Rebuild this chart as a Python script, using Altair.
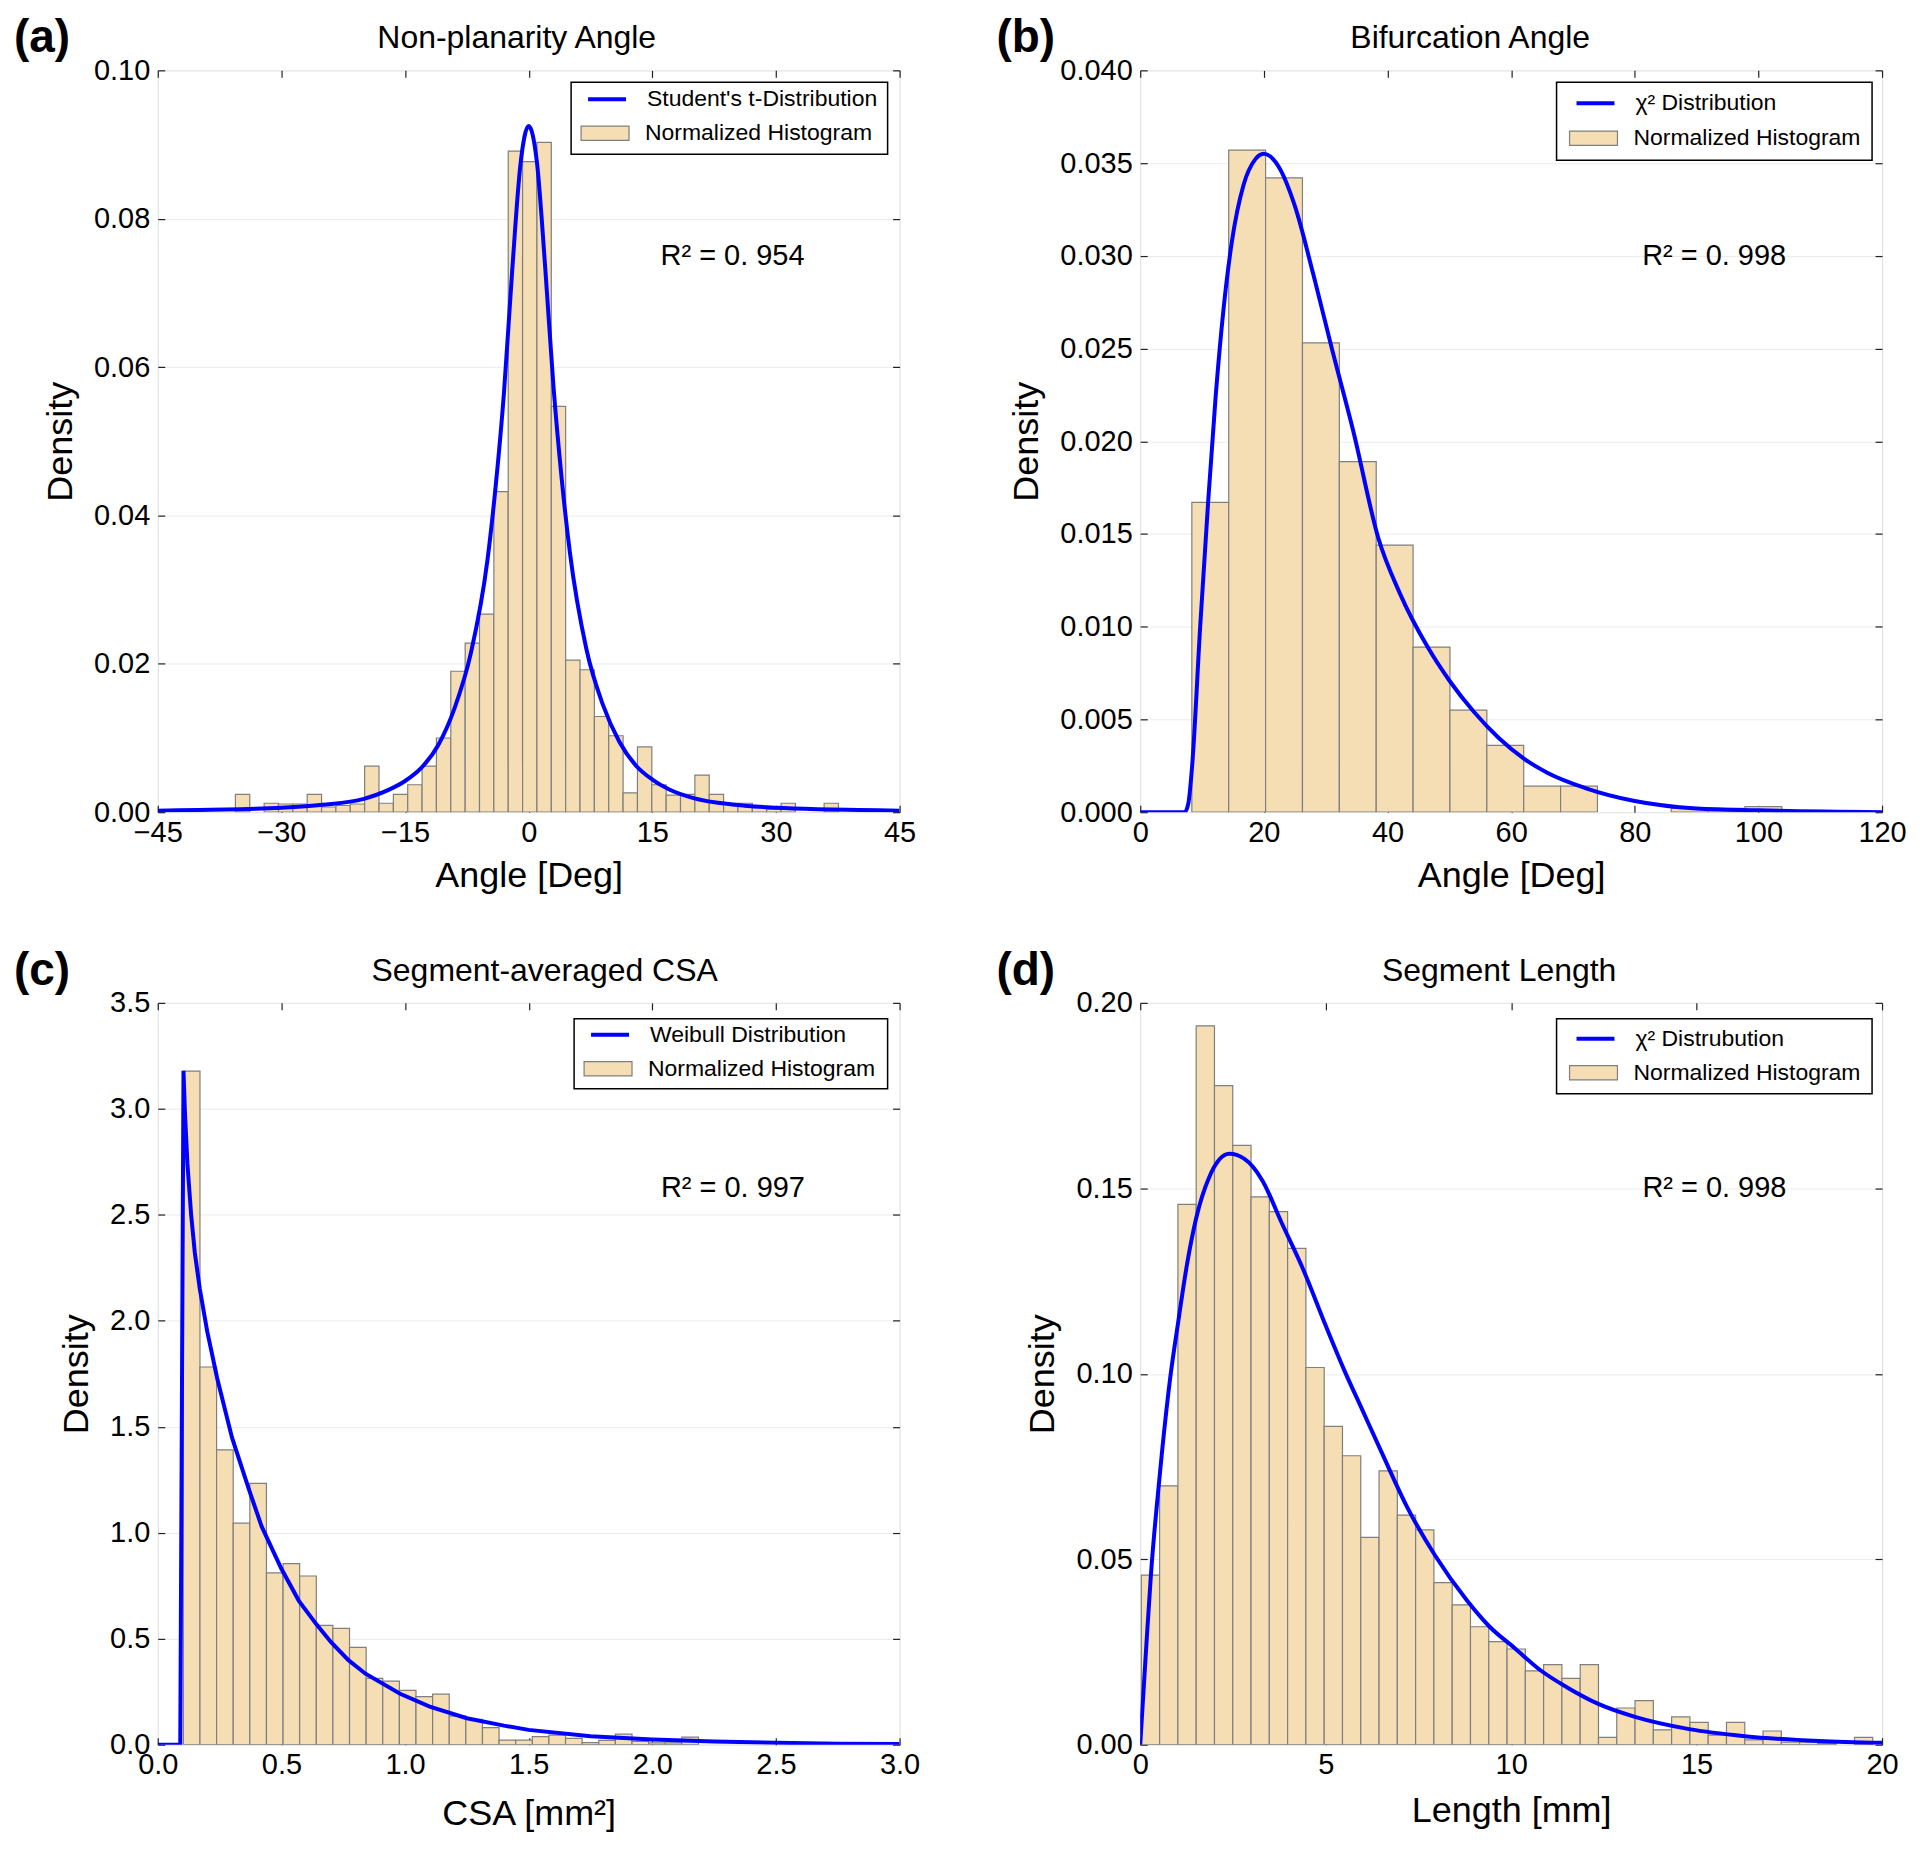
import altair as alt
import pandas as pd

FONT = "Liberation Sans"
W = 743
H = 743

# ---------------- (a) Non-planarity angle ----------------
a_bin_start = -35.58
a_bin_width = 1.742
a_density = [0.0024, 0.0, 0.0012, 0.0011, 0.0011, 0.0024, 0.0007, 0.0009, 0.0011, 0.0062,
             0.0012, 0.0024, 0.0037, 0.0062, 0.0100, 0.0190, 0.0228, 0.0267, 0.0432, 0.0891,
             0.0877, 0.0903, 0.0547, 0.0205, 0.0192, 0.0129, 0.0103, 0.0026, 0.0088, 0.0037,
             0.0023, 0.0024, 0.0050, 0.0024, 0.0012, 0.0012, 0.0006, 0.0004, 0.0012, 0.0, 0.0, 0.0012]
a_curve_x = [-45, -40, -35, -30, -25, -20, -17, -15, -13, -11, -9, -7, -5, -4, -3, -2, -1,
             0, 1, 2, 3, 4, 5, 7, 9, 11, 13, 15, 17, 20, 25, 30, 35, 40, 45]
a_curve_y = [0.0002, 0.0003, 0.0004, 0.0006, 0.0010, 0.0018, 0.0030, 0.0042, 0.0060, 0.0090,
             0.0140, 0.0215, 0.0340, 0.0440, 0.0565, 0.0730, 0.0873, 0.0925, 0.0876, 0.0735,
             0.0575, 0.0450, 0.0350, 0.0220, 0.0145, 0.0095, 0.0063, 0.0044, 0.0031, 0.0019,
             0.0010, 0.0006, 0.0004, 0.0003, 0.0002]

# ---------------- (b) Bifurcation angle ----------------
b_bin_start = 8.35
b_bin_width = 5.965
b_density = [0.0167, 0.0357, 0.0342, 0.0253, 0.0189, 0.0144, 0.0089, 0.0055, 0.0036, 0.0014,
             0.0014, 0.0, 0.0, 0.0002, 0.0002, 0.0003]
b_curve_x = [0, 6, 7.2, 7.8, 8.4, 9.7, 11, 12.2, 13.5, 14.8, 16.7, 18.6, 20, 22.4, 25, 28, 31,
             34.5, 38.5, 42, 46.5, 50, 54, 58, 62, 66, 72, 80, 90, 100, 120]
b_curve_y = [0, 0, 0.0, 0.0005, 0.0025, 0.0100, 0.0168, 0.0224, 0.0272, 0.0307, 0.0338, 0.0352,
             0.0355, 0.0348, 0.0327, 0.0290, 0.0250, 0.0205, 0.0148, 0.0118, 0.0089, 0.0071,
             0.0054, 0.0040, 0.0029, 0.0021, 0.0013, 0.0006, 0.0002, 0.0001, 0.0]

# ---------------- (c) Segment-averaged CSA ----------------
c_bin_start = 0.1035
c_bin_width = 0.0672
c_density = [3.178, 1.782, 1.391, 1.045, 1.233, 0.811, 0.854, 0.796, 0.563, 0.549,
             0.459, 0.313, 0.300, 0.256, 0.227, 0.239, 0.135, 0.120, 0.081, 0.022,
             0.022, 0.038, 0.045, 0.030, 0.010, 0.020, 0.050, 0.016, 0.009, 0.009, 0.036]
c_curve_x = [0, 0.091, 0.104, 0.11, 0.12, 0.135, 0.15, 0.17, 0.2, 0.24, 0.3, 0.37, 0.42, 0.5,
             0.57, 0.64, 0.7, 0.77, 0.84, 0.98, 1.1, 1.25, 1.4, 1.5, 1.75, 2.0, 2.25, 2.5, 2.75, 3.0]
c_curve_y = [0, 0, 3.18, 2.98, 2.74, 2.50, 2.32, 2.15, 1.95, 1.73, 1.45, 1.20, 1.03, 0.83,
             0.68, 0.57, 0.485, 0.40, 0.335, 0.24, 0.18, 0.125, 0.09, 0.07, 0.04, 0.025, 0.015,
             0.009, 0.005, 0.003]

# ---------------- (d) Segment length ----------------
d_bin_start = 0.03
d_bin_width = 0.493
d_density = [0.0457, 0.0698, 0.1457, 0.1938, 0.1777, 0.1616, 0.1477, 0.1437, 0.1338, 0.1017,
             0.0858, 0.0779, 0.0559, 0.0738, 0.0619, 0.0579, 0.0437, 0.0377, 0.0318, 0.0278,
             0.0258, 0.0199, 0.0216, 0.0179, 0.0216, 0.0020, 0.0099, 0.0119, 0.0040, 0.0075,
             0.0060, 0.0026, 0.0060, 0.0013, 0.0037, 0.0007, 0.0007, 0.0003, 0.0, 0.0020]
d_curve_x = [0, 0.16, 0.29, 0.52, 0.81, 1.01, 1.27, 1.51, 1.86, 2.4, 2.8, 3.3, 3.8, 4.4, 5.0,
             5.5, 6.0, 6.5, 7.2, 7.95, 8.8, 9.4, 10.1, 10.8, 11.5, 12.35, 13.34, 14.8, 16.3, 18.3, 20]
d_curve_y = [0, 0.026, 0.046, 0.072, 0.099, 0.113, 0.130, 0.142, 0.153, 0.1593, 0.158, 0.152,
             0.141, 0.128, 0.113, 0.101, 0.090, 0.079, 0.064, 0.051, 0.039, 0.032, 0.026, 0.020,
             0.0155, 0.011, 0.0075, 0.0042, 0.0023, 0.0010, 0.0005]

HIST_LABEL = "Normalized Histogram"
TICK_FS = 29
AXTITLE_FS = 36
LEG_FS = 23


def make_panel(letter, title, title_dx, xlabel, xdom, xticks, xfmt, ydom, yticks, yfmt,
               bin_start, bin_width, density, cx, cy, interp, curve_label, r2_text, r2_xy, leg,
               xtitle_pad=11):
    lo = [bin_start + i * bin_width for i in range(len(density))]
    hist = pd.DataFrame({"x0": lo, "x1": [v + bin_width for v in lo], "d": density,
                         "base": [0.0] * len(density), "name": [HIST_LABEL] * len(density)})
    hist = hist[hist["d"] > 0]
    curve = pd.DataFrame({"x": cx, "y": cy, "name": [curve_label] * len(cx)})
    one = pd.DataFrame({"k": [0]})

    xs = alt.Scale(domain=xdom, nice=False, zero=False)
    ys = alt.Scale(domain=ydom, nice=False, zero=False)
    tick_only = dict(labels=False, title=None, domain=False, grid=False, ticks=True,
                     tickSize=7, tickWidth=1.2, tickColor="#222222")
    fx0, fx1, fy0, fy1, c1, c2, dxl = leg

    bars = alt.Chart(hist).mark_rect(stroke="#7f7f7f", strokeWidth=1.2, clip=True).encode(
        x=alt.X("x0:Q", scale=xs, axis=alt.Axis(
            orient="bottom", title=xlabel, values=xticks, format=xfmt, ticks=False,
            domain=False, grid=False, labelFont=FONT, labelFontSize=TICK_FS, labelColor="black",
            labelPadding=6, labelFlush=False, labelOverlap=False, titleFont=FONT,
            titleFontSize=AXTITLE_FS, titleFontWeight="normal", titleColor="black",
            titlePadding=xtitle_pad)),
        x2="x1:Q",
        y=alt.Y("d:Q", scale=ys, axis=alt.Axis(
            orient="left", title="Density", values=yticks, format=yfmt, ticks=False,
            domain=False, grid=True, gridColor="#ebebeb", gridWidth=1, labelFont=FONT,
            labelFontSize=TICK_FS, labelColor="black", labelPadding=8, labelOverlap=False,
            titleFont=FONT, titleFontSize=AXTITLE_FS, titleFontWeight="normal",
            titleColor="black", titlePadding=14)),
        y2="base:Q",
        fill=alt.Fill("name:N", scale=alt.Scale(domain=[HIST_LABEL], range=["#f5deb3"]),
                      legend=alt.Legend(orient="none", legendX=fx0 + 9 + dxl, legendY=c2 - 25,
                                        title=None, symbolType="M-1,-0.3H1V0.3H-1Z",
                                        symbolSize=2304, symbolStrokeColor="#7f7f7f",
                                        symbolStrokeWidth=1.2, labelFont=FONT,
                                        labelFontSize=LEG_FS, labelColor="black", labelLimit=600,
                                        labelOffset=15, padding=0)),
    )

    line = alt.Chart(curve).mark_line(strokeWidth=4, interpolate=interp, clip=True).encode(
        x=alt.X("x:Q", scale=xs, axis=alt.Axis(orient="top", offset=-H, values=xticks, **tick_only)),
        y=alt.Y("y:Q", scale=ys, axis=alt.Axis(orient="right", offset=-W, values=yticks, **tick_only)),
        stroke=alt.Stroke("name:N", scale=alt.Scale(domain=[curve_label], range=["#0000ff"]),
                          legend=alt.Legend(orient="none", legendX=fx0 + 15 + dxl, legendY=c1 - 22,
                                            title=None, symbolType="stroke", symbolSize=1444,
                                            symbolStrokeWidth=4, labelFont=FONT,
                                            labelFontSize=LEG_FS, labelColor="black",
                                            labelLimit=600, labelOffset=19, padding=0)),
    )

    frame = alt.Chart(one).mark_rect(fill="white", stroke="black", strokeWidth=1.5).encode(
        x=alt.value(fx0), x2=alt.value(fx1), y=alt.value(fy0), y2=alt.value(fy1))

    r2 = alt.Chart(pd.DataFrame({"x": [r2_xy[0]], "y": [r2_xy[1]], "t": [r2_text]})).mark_text(
        align="left", baseline="middle", font=FONT, fontSize=29, color="black").encode(
        x=alt.X("x:Q", scale=xs, axis=alt.Axis(orient="bottom", offset=-H, values=xticks, **tick_only)),
        y=alt.Y("y:Q", scale=ys, axis=alt.Axis(orient="left", offset=-W, values=yticks, **tick_only)),
        text="t:N")

    tag = alt.Chart(one).mark_text(align="left", baseline="alphabetic", font=FONT, fontSize=46,
                                   fontWeight="bold", color="black").encode(
        x=alt.value(-144), y=alt.value(-18), text=alt.value(letter))

    ttl = alt.Chart(one).mark_text(align="center", baseline="alphabetic", font=FONT, fontSize=32,
                                   color="black").encode(
        x=alt.value(W / 2 + title_dx), y=alt.value(-22), text=alt.value(title))

    return alt.layer(bars, line, frame, r2, tag, ttl).resolve_axis(
        x="independent", y="independent").properties(width=W, height=H)


pa = make_panel("(a)", "Non-planarity Angle", -12, "Angle [Deg]", [-45, 45],
                [-45, -30, -15, 0, 15, 30, 45], "d", [0, 0.10],
                [0.0, 0.02, 0.04, 0.06, 0.08, 0.10], ".2f",
                a_bin_start, a_bin_width, a_density, a_curve_x, a_curve_y, "monotone",
                "Student's t-Distribution", "R² = 0. 954", (16.0, 0.075),
                (414, 731, 12, 84, 30, 63, 0))

pb = make_panel("(b)", "Bifurcation Angle", -41, "Angle [Deg]", [0, 120],
                [0, 20, 40, 60, 80, 100, 120], "d", [0, 0.040],
                [0.0, 0.005, 0.010, 0.015, 0.020, 0.025, 0.030, 0.035, 0.040], ".3f",
                b_bin_start, b_bin_width, b_density, b_curve_x, b_curve_y, "monotone",
                "χ² Distribution", "R² = 0. 998", (81.2, 0.030),
                (417, 733, 12, 90, 34, 68, 3))

pc = make_panel("(c)", "Segment-averaged CSA", 16, "CSA [mm²]", [0, 3.0],
                [0.0, 0.5, 1.0, 1.5, 2.0, 2.5, 3.0], ".1f", [0, 3.5],
                [0.0, 0.5, 1.0, 1.5, 2.0, 2.5, 3.0, 3.5], ".1f",
                c_bin_start, c_bin_width, c_density, c_curve_x, c_curve_y, "linear",
                "Weibull Distribution", "R² = 0. 997", (2.035, 2.625),
                (417, 731, 16, 86, 33, 66, 0), xtitle_pad=17)

pd_ = make_panel("(d)", "Segment Length", -12, "Length [mm]", [0, 20],
                 [0, 5, 10, 15, 20], "d", [0, 0.20],
                 [0.0, 0.05, 0.10, 0.15, 0.20], ".2f",
                 d_bin_start, d_bin_width, d_density, d_curve_x, d_curve_y, "monotone",
                 "χ² Distrubution", "R² = 0. 998", (13.54, 0.15),
                 (417, 733, 16, 91, 37, 70, 3), xtitle_pad=14)

chart = alt.concat(pa, pb, pc, pd_, columns=2, spacing={"row": 191, "column": 241},
                   bounds="flush").resolve_scale(
    x="independent", y="independent", fill="independent", stroke="independent").resolve_legend(
    fill="independent", stroke="independent").properties(
    padding={"left": 5, "top": 5, "right": 5, "bottom": 2}).configure_view(
    stroke="black", strokeWidth=1.5).configure(background="white")

chart.save("out.html", embed_options={"renderer": "svg", "actions": False})
